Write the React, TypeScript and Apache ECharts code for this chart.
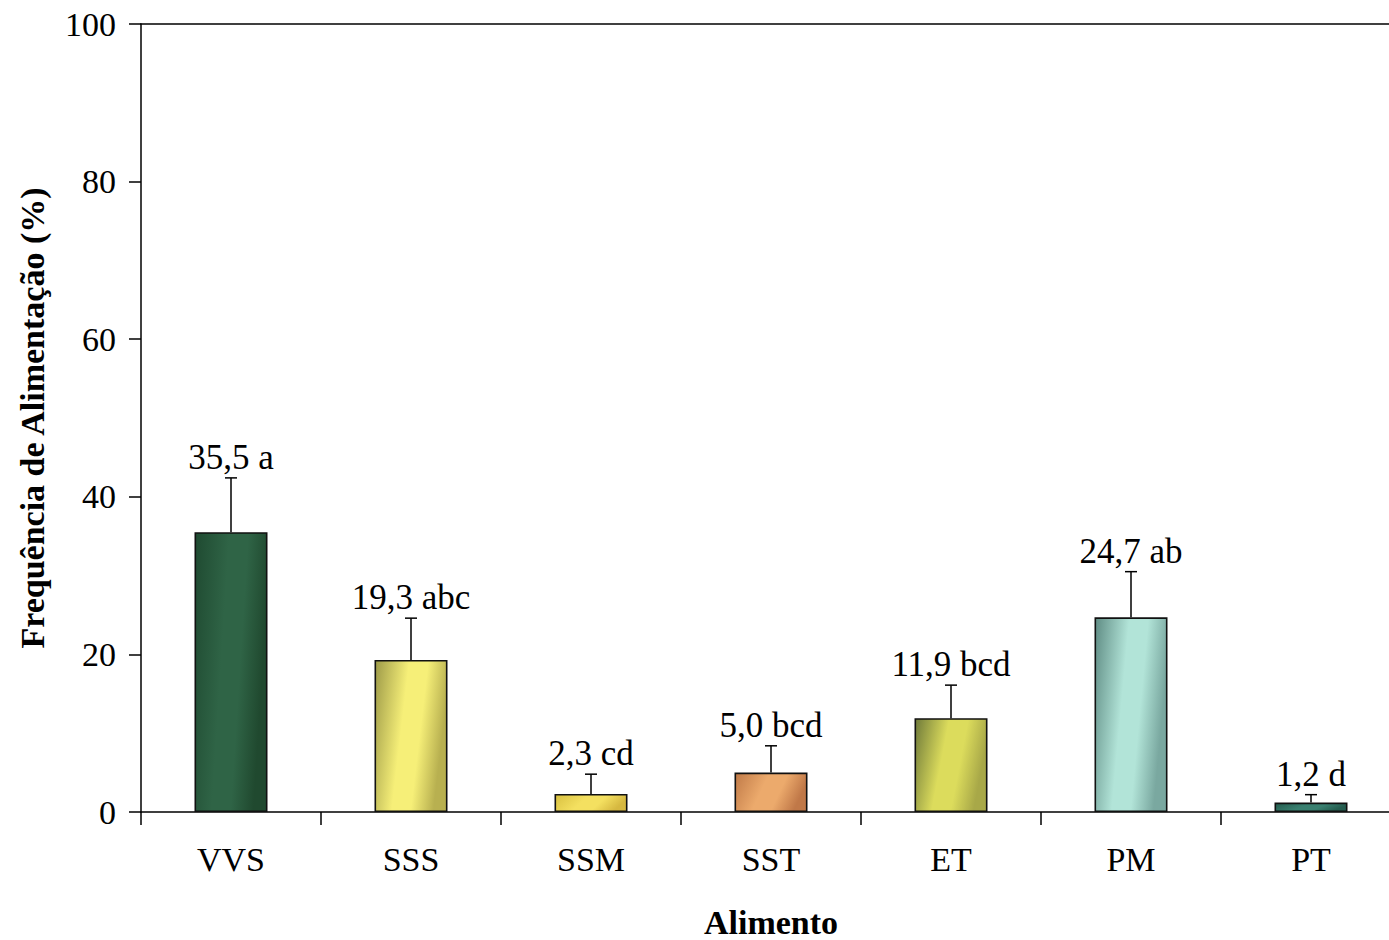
import React, { useEffect, useRef } from "react";
import * as echarts from "echarts";

const categories = ["VVS", "SSS", "SSM", "SST", "ET", "PM", "PT"];
const values = [35.5, 19.3, 2.3, 5.0, 11.9, 24.7, 1.2];
const errors = [6.9, 5.3, 2.5, 3.4, 4.2, 5.8, 1.0];
const letters = ["a", "abc", "cd", "bcd", "bcd", "ab", "d"];
const yTicks = [0, 20, 40, 60, 80, 100];

const FONT = '"Liberation Serif", "Times New Roman", serif';

const barColors: [string, string, string][] = [
  ["#1f4a31", "#2f6446", "#20492f"],
  ["#9d9a48", "#f6ef78", "#b8b050"],
  ["#d8c040", "#f4e060", "#d6b840"],
  ["#c07a48", "#ecaa6c", "#c07848"],
  ["#6f7a3a", "#dcdc5c", "#a8a848"],
  ["#5f8c84", "#b2e4d8", "#7aa8a0"],
  ["#245c4e", "#3a8070", "#245c4e"],
];

function grad(c: [string, string, string]) {
  return new echarts.graphic.LinearGradient(0, 0, 1, 0.25, [
    { offset: 0, color: c[0] },
    { offset: 0.45, color: c[1] },
    { offset: 0.7, color: c[1] },
    { offset: 1, color: c[2] },
  ]);
}

const fmt = (v: number) => v.toFixed(1).replace(".", ",");

export default function App() {
  const ref = useRef<HTMLDivElement>(null);
  useEffect(() => {
    if (!ref.current) return;
    const chart = echarts.init(ref.current, null, { renderer: "svg" });
    const errData = categories.map((_, i) => [i, values[i], errors[i], `${fmt(values[i])} ${letters[i]}`]);
    chart.setOption({
      animation: false,
      backgroundColor: "#ffffff",
      grid: {
        left: 141,
        top: 24,
        width: 1260,
        height: 788,
        outerBoundsMode: "none",
        containLabel: false,
        show: false,
      },
      xAxis: [
        {
          type: "category",
          data: categories,
          name: "Alimento",
          nameLocation: "middle",
          nameGap: 93,
          nameTextStyle: { fontFamily: FONT, fontSize: 34, fontWeight: "bold", color: "#000" },
          axisLine: { show: true, lineStyle: { color: "#000", width: 1.5 } },
          axisTick: { show: true, length: 13, lineStyle: { color: "#000", width: 1.5 } },
          axisLabel: { fontFamily: FONT, fontSize: 34, color: "#000", margin: 30 },
          splitLine: { show: false },
        },
        {
          type: "category",
          data: categories,
          position: "top",
          axisLine: { show: true, lineStyle: { color: "#000", width: 1.5 } },
          axisTick: { show: false },
          axisLabel: { show: false },
          splitLine: { show: false },
        },
      ],
      yAxis: {
        type: "value",
        min: 0,
        max: 100,
        interval: 20,
        name: "Frequência de Alimentação (%)",
        nameLocation: "middle",
        nameGap: 92,
        nameTextStyle: { fontFamily: FONT, fontSize: 34, fontWeight: "bold", color: "#000" },
        axisLine: { show: true, lineStyle: { color: "#000", width: 1.5 } },
        axisTick: { show: true, length: 12, lineStyle: { color: "#000", width: 1.5 } },
        axisLabel: {
          fontFamily: FONT,
          fontSize: 34,
          color: "#000",
          margin: 25,
          formatter: (v: number) => (yTicks.includes(v) ? String(v) : ""),
        },
        splitLine: { show: false },
      },
      series: [
        {
          type: "bar",
          xAxisIndex: 0,
          barWidth: 73,
          data: values.map((v, i) => ({
            value: v,
            itemStyle: { color: grad(barColors[i]), borderColor: "#111", borderWidth: 1.6 },
          })),
          z: 2,
        },
        {
          type: "custom",
          xAxisIndex: 0,
          z: 3,
          data: errData,
          encode: { x: 0, y: 1 },
          renderItem: (params: any, api: any) => {
            const i = api.value(0);
            const v = api.value(1);
            const e = api.value(2);
            const lbl = errData[params.dataIndex][3] as string;
            const base = api.coord([i, v]);
            const top = api.coord([i, v + e]);
            const cap = 6;
            return {
              type: "group",
              children: [
                {
                  type: "line",
                  shape: { x1: base[0], y1: base[1], x2: top[0], y2: top[1] },
                  style: { stroke: "#000", lineWidth: 1.5 },
                },
                {
                  type: "line",
                  shape: { x1: top[0] - cap, y1: top[1], x2: top[0] + cap, y2: top[1] },
                  style: { stroke: "#000", lineWidth: 1.5 },
                },
                {
                  type: "text",
                  x: top[0],
                  y: top[1] - 3,
                  style: {
                    text: lbl,
                    fontFamily: FONT,
                    fontSize: 35,
                    fill: "#000",
                    align: "center",
                    verticalAlign: "bottom",
                  },
                },
              ],
            };
          },
        },
      ],
    });
    return () => chart.dispose();
  }, []);
  return (
    <div style={{ position: "fixed", left: 0, top: 0, width: 1389, height: 940, overflow: "hidden", background: "#fff" }}>
      <div ref={ref} style={{ width: 1420, height: 940 }} />
    </div>
  );
}
